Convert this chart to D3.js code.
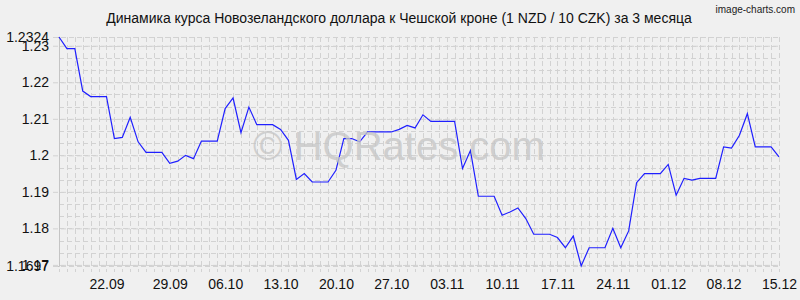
<!DOCTYPE html>
<html>
<head>
<meta charset="utf-8">
<script src="https://d3js.org/d3.v7.min.js"></script>
<style>
  body { margin: 0; background: #f0f0f0; }
  text { font-family: "Liberation Sans", Arial, sans-serif; }
</style>
</head>
<body>
<div class="chart"></div>
<script>
// Set Up Margins
var svgWidth = 800;
var svgHeight = 300;

var margin = {
  top: 37,
  right: 21,
  bottom: 34,
  left: 59
};

var width = svgWidth - margin.left - margin.right;
var height = svgHeight - margin.top - margin.bottom;

// NZD/CZK rate, one value per point
var rates = [
  1.2324, 1.2292, 1.2292, 1.2176, 1.2161, 1.2161, 1.2161, 1.2046, 1.2049, 1.2104,
  1.2037, 1.2008, 1.2008, 1.2008, 1.1978, 1.1984, 1.2000, 1.1991, 1.2039, 1.2039,
  1.2039, 1.2128, 1.2157, 1.2062, 1.2132, 1.2084, 1.2084, 1.2084, 1.2071, 1.2041,
  1.1934, 1.1950, 1.1927, 1.1927, 1.1927, 1.1959, 1.2046, 1.2046, 1.2037, 1.2064,
  1.2064, 1.2064, 1.2064, 1.2071, 1.2082, 1.2075, 1.2111, 1.2093, 1.2093, 1.2093,
  1.2093, 1.1964, 1.2013, 1.1888, 1.1888, 1.1888, 1.1836, 1.1845, 1.1856, 1.1827,
  1.1784, 1.1784, 1.1784, 1.1775, 1.1747, 1.1779, 1.1697, 1.1747, 1.1747, 1.1747,
  1.1800, 1.1747, 1.1793, 1.1925, 1.1950, 1.1950, 1.1950, 1.1975, 1.1891, 1.1937,
  1.1932, 1.1937, 1.1937, 1.1937, 1.2023, 1.2020, 1.2055, 1.2114, 1.2023, 1.2023,
  1.2023, 1.1996
];

// x tick labels and the point each one sits on
var dateLabels = ["22.09", "29.09", "06.10", "13.10", "20.10", "27.10", "03.11",
  "10.11", "17.11", "24.11", "01.12", "08.12", "15.12"];
var dateIndex = [6, 14, 21, 28, 35, 42, 49, 56, 63, 70, 77, 84, 91];

// y tick values
var yTicks = [1.1697, 1.17, 1.18, 1.19, 1.2, 1.21, 1.22, 1.23, 1.2324];

var yMin = 1.1697;
var yMax = 1.2324;

//SVG wrapper
var svg = d3
  .select(".chart")
  .append("svg")
  .attr("width", svgWidth)
  .attr("height", svgHeight);

svg.append("rect")
  .attr("width", svgWidth)
  .attr("height", svgHeight)
  .attr("fill", "#f0f0f0");

//SVG group
var chartGroup = svg.append("g")
  .attr("transform", `translate(${margin.left}, ${margin.top})`);

var xLinearScale = d3.scaleLinear()
  .domain([0, rates.length - 1])
  .range([0, width]);

var yLinearScale = d3.scaleLinear()
  .domain([yMin, yMax])
  .range([height, 0]);

// vertical grid, one dashed line per point
chartGroup.append("g")
  .selectAll("line")
  .data(d3.range(rates.length))
  .enter()
  .append("line")
  .attr("x1", d => Math.round(xLinearScale(d)) + 0.5)
  .attr("x2", d => Math.round(xLinearScale(d)) + 0.5)
  .attr("y1", 0)
  .attr("y2", height + 6)
  .attr("stroke", "#d2d2d2")
  .attr("stroke-dasharray", "5,3");

// minor horizontal grid every third of 0.01
var minor = d3.range(1.17, yMax, 0.01 / 3);
chartGroup.append("g")
  .selectAll("line")
  .data(minor)
  .enter()
  .append("line")
  .attr("x1", 0)
  .attr("x2", width)
  .attr("y1", d => Math.round(yLinearScale(d)) + 0.5)
  .attr("y2", d => Math.round(yLinearScale(d)) + 0.5)
  .attr("stroke", "#d2d2d2")
  .attr("stroke-dasharray", "5,3");

// left axis with tick labels
var leftAxis = d3.axisLeft(yLinearScale)
  .tickValues(yTicks)
  .tickFormat(d => String(+d.toFixed(4)))
  .tickSize(6)
  .tickPadding(4);

var yAxis = chartGroup.append("g")
  .call(leftAxis);
yAxis.select(".domain").attr("stroke", "#c4c4c4");
yAxis.selectAll(".tick line")
  .attr("x2", width)
  .attr("x1", -6)
  .attr("stroke", "#d2d2d2")
  .attr("stroke-dasharray", "5,3");
yAxis.selectAll(".tick text")
  .attr("font-size", "14px")
  .attr("font-family", "Liberation Sans, Arial, sans-serif")
  .attr("fill", "#111");

// bottom axis labels
var bottomAxis = d3.axisBottom(xLinearScale)
  .tickValues(dateIndex)
  .tickFormat((d, i) => dateLabels[i])
  .tickSize(0)
  .tickPadding(13);

var xAxis = chartGroup.append("g")
  .attr("transform", `translate(0, ${height})`)
  .call(bottomAxis);
xAxis.select(".domain").remove();
xAxis.selectAll(".tick text")
  .attr("font-size", "14px")
  .attr("font-family", "Liberation Sans, Arial, sans-serif")
  .attr("fill", "#111");

// watermark
svg.append("text")
  .attr("x", 399)
  .attr("y", 160)
  .attr("text-anchor", "middle")
  .attr("font-size", "40px")
  .attr("fill", "#c6c6c6")
  .attr("fill-opacity", 0.8)
  .text("© HQRates.com");

// rate line
var line = d3.line()
  .x((d, i) => xLinearScale(i))
  .y(d => yLinearScale(d));

chartGroup.append("path")
  .datum(rates)
  .attr("d", line)
  .attr("fill", "none")
  .attr("stroke", "#1f1fff")
  .attr("stroke-width", 1.2);

// title
svg.append("text")
  .attr("x", 399)
  .attr("y", 23)
  .attr("text-anchor", "middle")
  .attr("font-size", "14px")
  .attr("fill", "#111")
  .text("Динамика курса Новозеландского доллара к Чешской кроне (1 NZD / 10 CZK) за 3 месяца");

svg.append("text")
  .attr("x", 795)
  .attr("y", 13)
  .attr("text-anchor", "end")
  .attr("font-size", "10px")
  .style("font-family", "Liberation Sans Narrow, sans-serif")
  .attr("fill", "#222")
  .text("image-charts.com");
</script>
</body>
</html>
